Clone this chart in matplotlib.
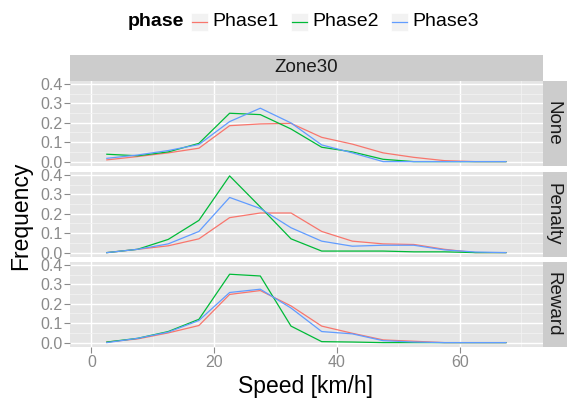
import matplotlib
matplotlib.use("Agg")
import matplotlib.pyplot as plt
from matplotlib.patches import Rectangle
from matplotlib.lines import Line2D

plt.rcParams['font.family'] = ['Liberation Sans', 'DejaVu Sans']

speed = [2.5, 7.5, 12.5, 17.5, 22.5, 27.5, 32.5, 37.5, 42.5, 47.5, 52.5, 57.5, 62.5, 67.5]
phases = ["Phase1", "Phase2", "Phase3"]
conditions = ["None", "Penalty", "Reward"]
zone = "Zone30"

none_p1 = [0.009, 0.026, 0.045, 0.069, 0.185, 0.194, 0.197, 0.125, 0.090, 0.045, 0.022, 0.005, 0.0, 0.0]
none_p2 = [0.038, 0.030, 0.050, 0.094, 0.249, 0.242, 0.168, 0.074, 0.050, 0.012, 0.0, 0.0, 0.0, 0.0]
none_p3 = [0.017, 0.034, 0.057, 0.088, 0.206, 0.275, 0.199, 0.086, 0.045, 0.0, 0.0, 0.0, 0.0, 0.0]

pen_p1 = [0.0, 0.017, 0.035, 0.071, 0.180, 0.204, 0.204, 0.109, 0.059, 0.045, 0.042, 0.017, 0.0, 0.0]
pen_p2 = [0.0, 0.017, 0.068, 0.166, 0.395, 0.235, 0.071, 0.008, 0.008, 0.008, 0.004, 0.004, 0.0, 0.0]
pen_p3 = [0.0, 0.017, 0.045, 0.109, 0.284, 0.227, 0.128, 0.059, 0.033, 0.038, 0.038, 0.014, 0.003, 0.0]

rew_p1 = [0.003, 0.019, 0.050, 0.088, 0.248, 0.268, 0.189, 0.085, 0.048, 0.014, 0.007, 0.0, 0.0, 0.0]
rew_p2 = [0.003, 0.022, 0.057, 0.120, 0.352, 0.343, 0.085, 0.005, 0.003, 0.0, 0.0, 0.0, 0.0, 0.0]
rew_p3 = [0.0, 0.022, 0.054, 0.114, 0.258, 0.275, 0.178, 0.057, 0.045, 0.010, 0.003, 0.0, 0.0, 0.0]

series = {
    "None": [none_p1, none_p2, none_p3],
    "Penalty": [pen_p1, pen_p2, pen_p3],
    "Reward": [rew_p1, rew_p2, rew_p3],
}
colors = ["#F8766D", "#00BA38", "#619CFF"]
xticks = [0, 20, 40, 60]
yticks = [0.0, 0.1, 0.2, 0.3, 0.4]

W, H = 567, 399
fig = plt.figure(figsize=(W / 100, H / 100), dpi=100)


def box(x0, y0, x1, y1):
    return [x0 / W, 1 - y1 / H, (x1 - x0) / W, (y1 - y0) / H]


PL, PR = 70, 542.7
tops = [81, 172, 262]
ph = 84.5
axis_grey = "#8A8A8A"
strip_fs = 13.5

# top strip
sax = fig.add_axes(box(PL, 55, PR, 81))
sax.set_facecolor("#CCCCCC")
sax.set_xticks([]); sax.set_yticks([])
for s in sax.spines.values():
    s.set_visible(False)
sax.text(0.5, 0.5, zone, ha="center", va="center", fontsize=strip_fs, color="#1A1A1A",
         transform=sax.transAxes)

for i, cond in enumerate(conditions):
    t = tops[i]
    ax = fig.add_axes(box(PL, t, PR, t + ph))
    ax.set_facecolor("#E5E5E5")
    ax.set_xlim(-3.5, 73.5)
    ax.set_ylim(-0.02, 0.415)
    ax.set_xticks(xticks)
    ax.set_xticks([10, 30, 50, 70], minor=True)
    ax.set_yticks(yticks)
    ax.set_yticks([0.05, 0.15, 0.25, 0.35], minor=True)
    ax.grid(which="major", color="white", linewidth=1.0)
    ax.grid(which="minor", color="#F2F2F2", linewidth=0.6)
    ax.set_axisbelow(True)
    for s in ax.spines.values():
        s.set_visible(False)
    for j, vals in enumerate(series[cond]):
        ax.plot(speed, vals, color=colors[j], linewidth=0.9)
    ax.tick_params(axis="y", which="major", length=4, color=axis_grey, labelcolor=axis_grey,
                   labelsize=11.5, pad=1.5, width=0.8)
    ax.tick_params(which="minor", length=0)
    ax.set_yticklabels(["0.0", "0.1", "0.2", "0.3", "0.4"])
    if i == 2:
        ax.tick_params(axis="x", which="major", length=4, color=axis_grey, labelcolor=axis_grey,
                       labelsize=11.5, pad=2, width=0.8)
    else:
        ax.tick_params(axis="x", which="major", length=0, labelbottom=False)
    # right strip
    rax = fig.add_axes(box(543, t, 570, t + ph))
    rax.set_facecolor("#CCCCCC")
    rax.set_xticks([]); rax.set_yticks([])
    for s in rax.spines.values():
        s.set_visible(False)
    fig.text(553 / W, 1 - (t + ph / 2) / H, cond, rotation=-90, ha="center", va="center",
             fontsize=strip_fs, color="#1A1A1A")

fig.text(306 / W, 1 - 387 / H, "Speed [km/h]", ha="center", va="center", fontsize=16.5,
         color="black")
fig.text(21 / W, 1 - 216 / H, "Frequency", ha="center", va="center", rotation=90,
         fontsize=16.5, color="black")

# legend
ly = 22
leg_fs = 14
fig.text(128 / W, 1 - ly / H, "phase", ha="left", va="center", fontsize=leg_fs, fontweight="bold")
key_x = [191, 291, 391]
for j, ph_name in enumerate(phases):
    kx = key_x[j]
    fig.patches.append(Rectangle((kx / W, 1 - (ly + 9) / H), 17 / W, 18 / H,
                                 transform=fig.transFigure, facecolor="#F2F2F2",
                                 edgecolor="white", linewidth=0.5))
    fig.lines.append(Line2D([(kx + 1) / W, (kx + 16) / W], [1 - ly / H, 1 - ly / H],
                            transform=fig.transFigure, color=colors[j], linewidth=0.9))
    fig.text((kx + 21) / W, 1 - ly / H, ph_name, ha="left", va="center", fontsize=leg_fs)

fig.savefig("out.png", dpi=100)
